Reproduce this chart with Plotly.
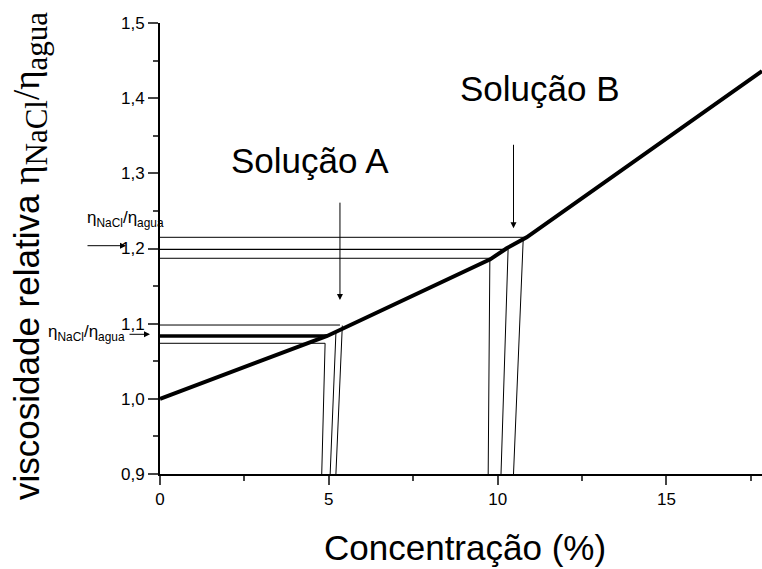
import plotly.graph_objects as go

# ---- data ----
# main viscosity curve
conc = [0, 4.95, 9.78, 10.27, 10.86, 17.83]
visc = [1.0, 1.0836, 1.1856, 1.2003, 1.2149, 1.436]

# guide lines, Solution A (horizontal levels and their right ends)
hA_y = [1.0982, 1.0836, 1.0739]
hA_xend = [5.33, 4.95, 4.89]
hA_w = [1, 3.5, 1]
# near-vertical drop lines, Solution A
vA_xbot = [4.79, 5.04, 5.21]
vA_xtop = [4.89, 5.21, 5.40]
vA_ytop = [1.0739, 1.0876, 1.0975]

# guide lines, Solution B
hB_y = [1.2149, 1.1989, 1.187]
hB_xend = [10.86, 10.27, 9.77]
hB_w = [1, 1.3, 1]
vB_xbot = [9.72, 10.10, 10.47]
vB_xtop = [9.77, 10.31, 10.76]
vB_ytop = [1.187, 1.1989, 1.2149]

y_base = 0.9

# arrows (tip x, tip y, tail y)
arrowA = (5.33, 1.1315, 1.263)
arrowB = (10.47, 1.227, 1.340)

labels = ["Solução A", "Solução B"]
label_x = [4.44, 11.25]
label_y = [1.3177, 1.4135]

x_ticks = [0, 5, 10, 15]
y_ticks = [0.9, 1.0, 1.1, 1.2, 1.3, 1.4, 1.5]

FONT = "Liberation Sans, Arial, sans-serif"
SERIF = "Liberation Serif, Times New Roman, serif"

# plot area at window x 160..762, y 23..474 (body margin removed below)
L, W, T, H = 160, 602, 23, 451
FIG_W, FIG_H = 762, 569

fig = go.Figure()

for y, xe, w in zip(hA_y + hB_y, hA_xend + hB_xend, hA_w + hB_w):
    fig.add_trace(go.Scatter(x=[0, xe], y=[y, y], mode="lines",
                             line=dict(color="black", width=w), hoverinfo="skip"))
for xb, xt, yt in zip(vA_xbot + vB_xbot, vA_xtop + vB_xtop, vA_ytop + vB_ytop):
    fig.add_trace(go.Scatter(x=[xb, xt], y=[y_base, yt], mode="lines",
                             line=dict(color="black", width=1), hoverinfo="skip"))

fig.add_trace(go.Scatter(x=conc, y=visc, mode="lines",
                         line=dict(color="black", width=4), hoverinfo="skip"))

ann = []
for t, x, y in zip(labels, label_x, label_y):
    ann.append(dict(text=t, x=x, y=y, xref="x", yref="y", showarrow=False,
                    xanchor="center", yanchor="middle",
                    font=dict(size=35, family=FONT, color="black")))
for (x, yt, ya) in [arrowA, arrowB]:
    ann.append(dict(text="", x=x, y=yt, ax=x, ay=ya, xref="x", yref="y",
                    axref="x", ayref="y", showarrow=True, arrowhead=2,
                    arrowsize=1.2, arrowwidth=1, arrowcolor="black"))


def px(xp):
    return (xp - L) / W


def py(yp):
    return (T + H - yp) / H


eta = "η<sub>NaCl</sub>/η<sub>agua</sub>"
ann.append(dict(text=eta, x=px(125), y=py(219), xref="paper", yref="paper",
                xanchor="center", yanchor="middle",
                showarrow=False, font=dict(size=17, family=FONT, color="black")))
ann.append(dict(text=eta, x=px(86), y=py(333), xref="paper", yref="paper",
                xanchor="center", yanchor="middle",
                showarrow=False, font=dict(size=17, family=FONT, color="black")))
ann.append(dict(text="", x=px(126), y=py(245.7), ax=-40, ay=0, xref="paper", yref="paper",
                showarrow=True, arrowhead=2, arrowsize=1.2, arrowwidth=1, arrowcolor="black"))
ann.append(dict(text="", x=px(150), y=py(334.3), ax=-22, ay=0, xref="paper", yref="paper",
                showarrow=True, arrowhead=2, arrowsize=1.2, arrowwidth=1, arrowcolor="black"))

# axis titles
ytitle = ("viscosidade relativa <span style='font-family:" + SERIF + "; font-size:37px'>η"
          "<sub><span style='font-size:31px'>NaCl</span></sub>/η"
          "<sub><span style='font-size:31px'>agua</span></sub></span>")
ann.append(dict(text=ytitle, x=px(30), y=py(256), xref="paper", yref="paper", textangle=-90,
                xanchor="center", yanchor="middle",
                showarrow=False, font=dict(size=35, family=FONT, color="black")))
ann.append(dict(text="Concentração (%)", x=px(465), y=py(547), xref="paper", yref="paper",
                xanchor="center", yanchor="middle",
                showarrow=False, font=dict(size=35, family=FONT, color="black")))

fig.update_layout(
    width=FIG_W, height=FIG_H,
    margin=dict(l=L, r=FIG_W - L - W, t=T, b=FIG_H - T - H),
    paper_bgcolor="white", plot_bgcolor="white",
    showlegend=False, separators=",.",
    annotations=ann,
    xaxis=dict(range=[0, 17.83], tickvals=x_ticks, ticks="outside", ticklen=9,
               tickwidth=2, showline=True, linewidth=2, linecolor="black",
               showgrid=False, zeroline=False,
               minor=dict(ticks="outside", ticklen=5, tickwidth=2, dtick=2.5, tick0=0),
               tickfont=dict(size=17, family=FONT, color="black")),
    yaxis=dict(range=[0.9, 1.5], tickvals=y_ticks, tickformat=".1f", ticks="outside",
               ticklen=10, tickwidth=2, showline=True, linewidth=2, linecolor="black",
               showgrid=False, zeroline=False,
               minor=dict(ticks="outside", ticklen=5, tickwidth=2, dtick=0.05, tick0=0.9),
               tickfont=dict(size=17, family=FONT, color="black")),
)

fig.write_html(
    "out.html",
    config={"displayModeBar": False},
    post_script="document.body.style.margin='0';document.body.style.overflow='hidden';",
)
